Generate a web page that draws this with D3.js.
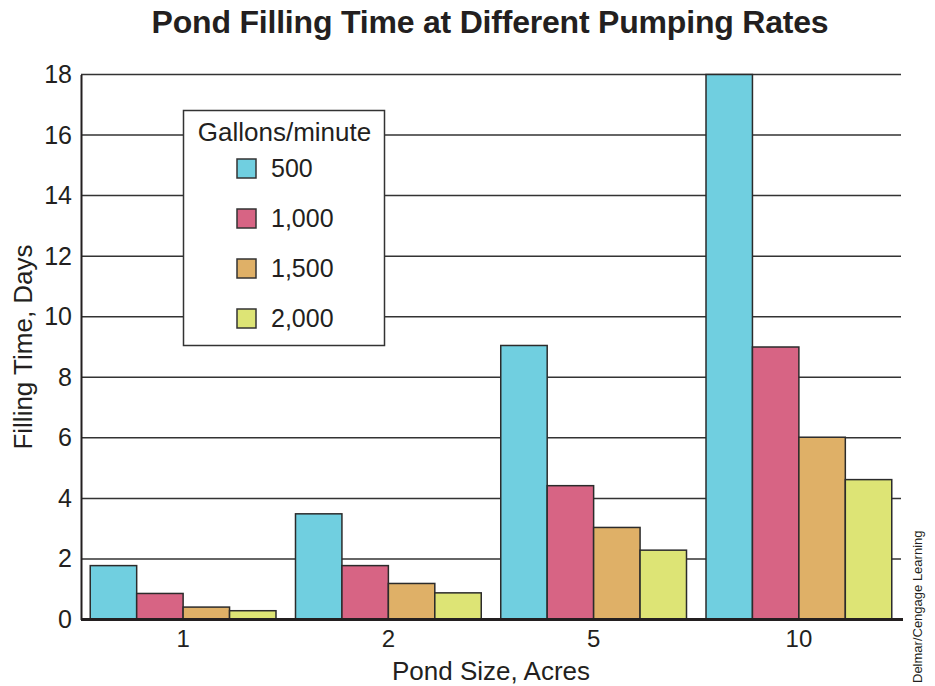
<!DOCTYPE html>
<html>
<head>
<meta charset="utf-8">
<script src="https://cdn.jsdelivr.net/npm/d3@7"></script>
<style>
  html, body { margin: 0; padding: 0; background: #fff; }
  svg { display: block; font-family: "Liberation Sans", Arial, Helvetica, sans-serif; }
</style>
</head>
<body>
<svg id="chart" width="935" height="686"></svg>
<script>
// Pond sizes (acres) on the x axis
const pondSizes = ["1", "2", "5", "10"];
// Pumping rates (gallons per minute) shown as series
const pumpRates = ["500", "1,000", "1,500", "2,000"];
// Filling time in days, one array per pumping rate, ordered by pond size
const days500  = [1.78, 3.49, 9.05, 18.0];
const days1000 = [0.86, 1.78, 4.42, 9.0];
const days1500 = [0.41, 1.19, 3.04, 6.02];
const days2000 = [0.29, 0.88, 2.29, 4.62];
const yTicks = [0, 2, 4, 6, 8, 10, 12, 14, 16, 18];
const seriesColors = ["#70cfe0", "#d76484", "#dfb067", "#dde475"];

const seriesValues = [days500, days1000, days1500, days2000];

const svg = d3.select("#chart");
const plotLeft = 81, plotRight = 901, plotTop = 74.5, plotBottom = 619.5;

const x0 = d3.scaleBand().domain(pondSizes).range([plotLeft, plotRight])
  .paddingInner(0.095).paddingOuter(0.045);
const x1 = d3.scaleBand().domain(pumpRates).range([0, x0.bandwidth()]);
const y = d3.scaleLinear().domain([0, 18]).range([plotBottom, plotTop]);
const color = d3.scaleOrdinal().domain(pumpRates).range(seriesColors);

// Title
svg.append("text")
  .attr("x", 490).attr("y", 33)
  .attr("text-anchor", "middle")
  .style("font-weight", "bold").style("font-size", "32px")
  .style("letter-spacing", "-0.2px")
  .attr("fill", "#231f20")
  .text("Pond Filling Time at Different Pumping Rates");

// Horizontal gridlines
svg.append("g").selectAll("line")
  .data(yTicks.filter(d => d > 0))
  .join("line")
  .attr("x1", plotLeft).attr("x2", plotRight)
  .attr("y1", d => y(d)).attr("y2", d => y(d))
  .attr("stroke", "#333").attr("stroke-width", 1.5);

// Y axis with labels on the left
const yAxis = svg.append("g")
  .attr("transform", `translate(${plotLeft},0)`)
  .call(d3.axisLeft(y).tickValues(yTicks).tickSize(0).tickPadding(9));
yAxis.select(".domain").attr("stroke", "#231f20").attr("stroke-width", 2);
yAxis.selectAll("text")
  .style("font-size", "25px").attr("fill", "#231f20")
  .style("font-family", "'Liberation Sans', Arial, sans-serif");

// Legend panel
const legend = svg.append("g");
legend.append("rect")
  .attr("x", 183.5).attr("y", 110.5).attr("width", 201).attr("height", 235)
  .attr("fill", "#fff").attr("stroke", "#333").attr("stroke-width", 1.5);
legend.append("text")
  .attr("x", 284.5).attr("y", 141)
  .attr("text-anchor", "middle")
  .style("font-size", "26px").attr("fill", "#231f20")
  .text("Gallons/minute");
const items = legend.selectAll("g.item").data(pumpRates).join("g")
  .attr("class", "item")
  .attr("transform", (d, i) => `translate(237,${159 + i * 50})`);
items.append("rect")
  .attr("width", 19).attr("height", 19)
  .attr("fill", d => color(d)).attr("stroke", "#333").attr("stroke-width", 1.5);
items.append("text")
  .attr("x", 34).attr("y", 18)
  .style("font-size", "25px").attr("fill", "#231f20")
  .text(d => d);

// Grouped bars
const groups = svg.append("g").selectAll("g")
  .data(pondSizes)
  .join("g")
  .attr("transform", d => `translate(${x0(d)},0)`);
groups.selectAll("rect")
  .data((d, gi) => pumpRates.map((r, si) => ({ rate: r, value: seriesValues[si][gi] })))
  .join("rect")
  .attr("x", d => x1(d.rate))
  .attr("width", x1.bandwidth())
  .attr("y", d => y(d.value))
  .attr("height", d => y(0) - y(d.value))
  .attr("fill", d => color(d.rate))
  .attr("stroke", "#2b2b2b").attr("stroke-width", 1.5);

// Baseline and category labels
const xAxis = svg.append("g")
  .attr("transform", `translate(0,${plotBottom})`)
  .call(d3.axisBottom(x0).tickSize(0).tickPadding(10));
xAxis.select(".domain").remove();
xAxis.selectAll("text")
  .style("font-size", "24px").attr("fill", "#231f20")
  .style("font-family", "'Liberation Sans', Arial, sans-serif");
svg.append("line")
  .attr("x1", plotLeft).attr("x2", plotRight + 2)
  .attr("y1", plotBottom).attr("y2", plotBottom)
  .attr("stroke", "#231f20").attr("stroke-width", 3);

// Axis titles
svg.append("text")
  .attr("x", 491).attr("y", 680)
  .attr("text-anchor", "middle")
  .style("font-size", "26px").attr("fill", "#231f20")
  .text("Pond Size, Acres");
svg.append("text")
  .attr("transform", "translate(32,347) rotate(-90)")
  .attr("text-anchor", "middle")
  .style("font-size", "26px").attr("fill", "#231f20")
  .text("Filling Time, Days");

// Credit line
svg.append("text")
  .attr("transform", "translate(922,683) rotate(-90)")
  .style("font-size", "13px").attr("fill", "#231f20")
  .text("Delmar/Cengage Learning");
</script>
</body>
</html>
